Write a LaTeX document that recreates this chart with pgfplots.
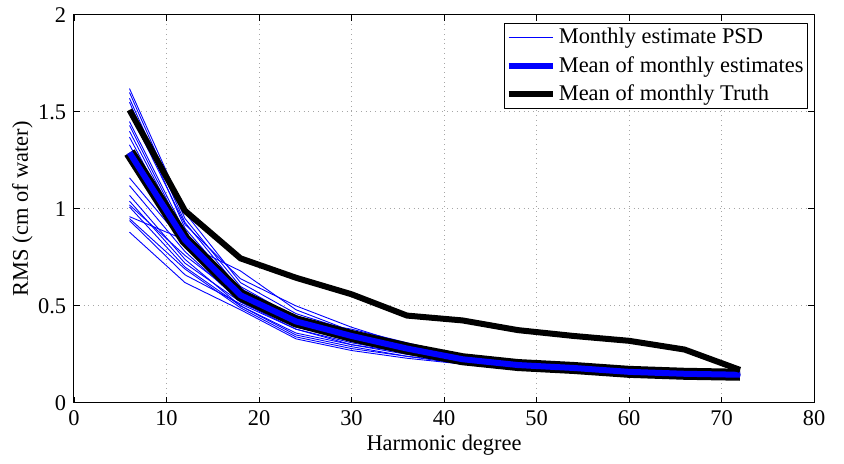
\documentclass[border=0pt]{standalone}
\usepackage{fontspec}
\setmainfont{Liberation Serif}
\usepackage{pgfplots}
\usepackage{pgfplotstable}
\pgfplotsset{compat=1.18}

% columns: degree, 20 monthly estimates, mean of estimates, mean of truth
\pgfplotstableread{
x  s1   s2    s3   s4    s5    s6    s7    s8    s9    s10   s11  s12   s13   s14  s15  s16  s17  s18   s19   s20  mean  truth
6  1.62 1.60  1.57 1.55  1.50  1.45  1.43  1.40  1.37  1.33  1.16 1.12  1.07  1.04 1.02 1.01 0.96 0.95  0.94  0.88 1.29  1.51
12 0.98 0.95  0.93 0.90  0.92  0.88  0.86  0.85  0.83  0.80  0.82 0.78  0.74  0.72 0.76 0.70 0.84 0.69  0.66  0.62 0.84  0.99
18 0.62 0.60  0.58 0.57  0.64  0.56  0.55  0.58  0.53  0.55  0.68 0.52  0.50  0.52 0.54 0.50 0.59 0.49  0.51  0.48 0.555 0.745
24 0.46 0.44  0.43 0.41  0.50  0.42  0.40  0.45  0.40  0.43  0.48 0.38  0.36  0.39 0.41 0.35 0.44 0.34  0.38  0.33 0.42  0.645
30 0.37 0.36  0.38 0.35  0.39  0.34  0.33  0.36  0.32  0.35  0.37 0.31  0.30  0.33 0.34 0.29 0.36 0.28  0.30  0.27 0.345 0.56
36 0.30 0.29  0.31 0.28  0.30  0.27  0.28  0.29  0.27  0.28  0.29 0.26  0.25  0.27 0.28 0.24 0.29 0.24  0.26  0.23 0.28  0.45
42 0.24 0.23  0.24 0.22  0.23  0.22  0.23  0.22  0.22  0.23  0.22 0.21  0.21  0.22 0.23 0.20 0.23 0.21  0.21  0.20 0.225 0.425
48 0.21 0.20  0.20 0.19  0.20  0.20  0.21  0.19  0.19  0.20  0.19 0.18  0.19  0.20 0.20 0.18 0.20 0.17  0.19  0.18 0.195 0.375
54 0.19 0.18  0.19 0.18  0.18  0.18  0.19  0.17  0.18  0.18  0.18 0.17  0.17  0.18 0.18 0.17 0.18 0.165 0.17  0.17 0.18  0.345
60 0.17 0.165 0.17 0.16  0.165 0.16  0.165 0.155 0.16  0.16  0.16 0.155 0.155 0.16 0.16 0.15 0.16 0.15  0.155 0.15 0.16  0.32
66 0.155 0.15 0.16 0.15  0.155 0.15  0.15  0.145 0.15  0.15  0.15 0.145 0.145 0.15 0.15 0.14 0.15 0.14  0.145 0.14 0.15  0.275
72 0.15 0.145 0.15 0.145 0.15  0.145 0.145 0.14  0.145 0.145 0.14 0.14  0.14  0.145 0.145 0.14 0.145 0.135 0.14 0.14 0.145 0.17
}\rms

\begin{document}
\fontsize{11.25}{13}\selectfont
\begin{tikzpicture}
\begin{axis}[
  scale only axis,
  width=370bp, height=194bp,
  xmin=0, xmax=80, ymin=0, ymax=2,
  xtick={0,10,...,80}, ytick={0,0.5,...,2},
  xticklabels={0,10,20,30,40,50,60,70,80},
  yticklabels={0,0.5,1,1.5,2},
  tick align=inside, major tick length=3bp,
  tick style={black, line width=0.4pt},
  grid=major,
  grid style={gray!70, dotted, line width=0.5pt},
  axis line style={black, line width=0.5pt},
  xlabel={Harmonic degree},
  ylabel={RMS (cm of water)},
  xlabel style={yshift=3bp},
  ylabel style={yshift=-5bp},
  ticklabel style={font=\fontsize{11.25}{13}\selectfont},
  label style={font=\fontsize{11.25}{13}\selectfont},
  legend style={at={(1,1)}, anchor=north east, xshift=-3bp, yshift=-4bp,
    draw=black, line width=0.5pt, font=\fontsize{11.25}{13}\selectfont,
    inner sep=0.5pt, row sep=0.5pt,
    nodes={inner xsep=1.5pt}},
  legend cell align=left,
  legend image code/.code={\draw[#1] (0cm,0cm) -- (0.78cm,0cm);},
  line join=round,
]
\addplot[blue, line width=0.45pt] table[x=x, y=s1] {\rms};
\addlegendentry{Monthly estimate PSD}
\pgfplotsinvokeforeach{2,...,20}{
  \addplot[blue, line width=0.45pt, forget plot] table[x=x, y=s#1] {\rms};
}
\addplot[black, line width=6bp, forget plot] table[x=x, y=mean] {\rms};
\addplot[blue, line width=3bp] table[x=x, y=mean] {\rms};
\addlegendentry{Mean of monthly estimates}
\addplot[black, line width=3bp] table[x=x, y=truth] {\rms};
\addlegendentry{Mean of monthly Truth}
\end{axis}
\path (current axis.south east) ++(15bp,0) (current axis.north east) ++(0,3bp)
  (current axis.south west) ++(-37bp,0);
\end{tikzpicture}
\end{document}
